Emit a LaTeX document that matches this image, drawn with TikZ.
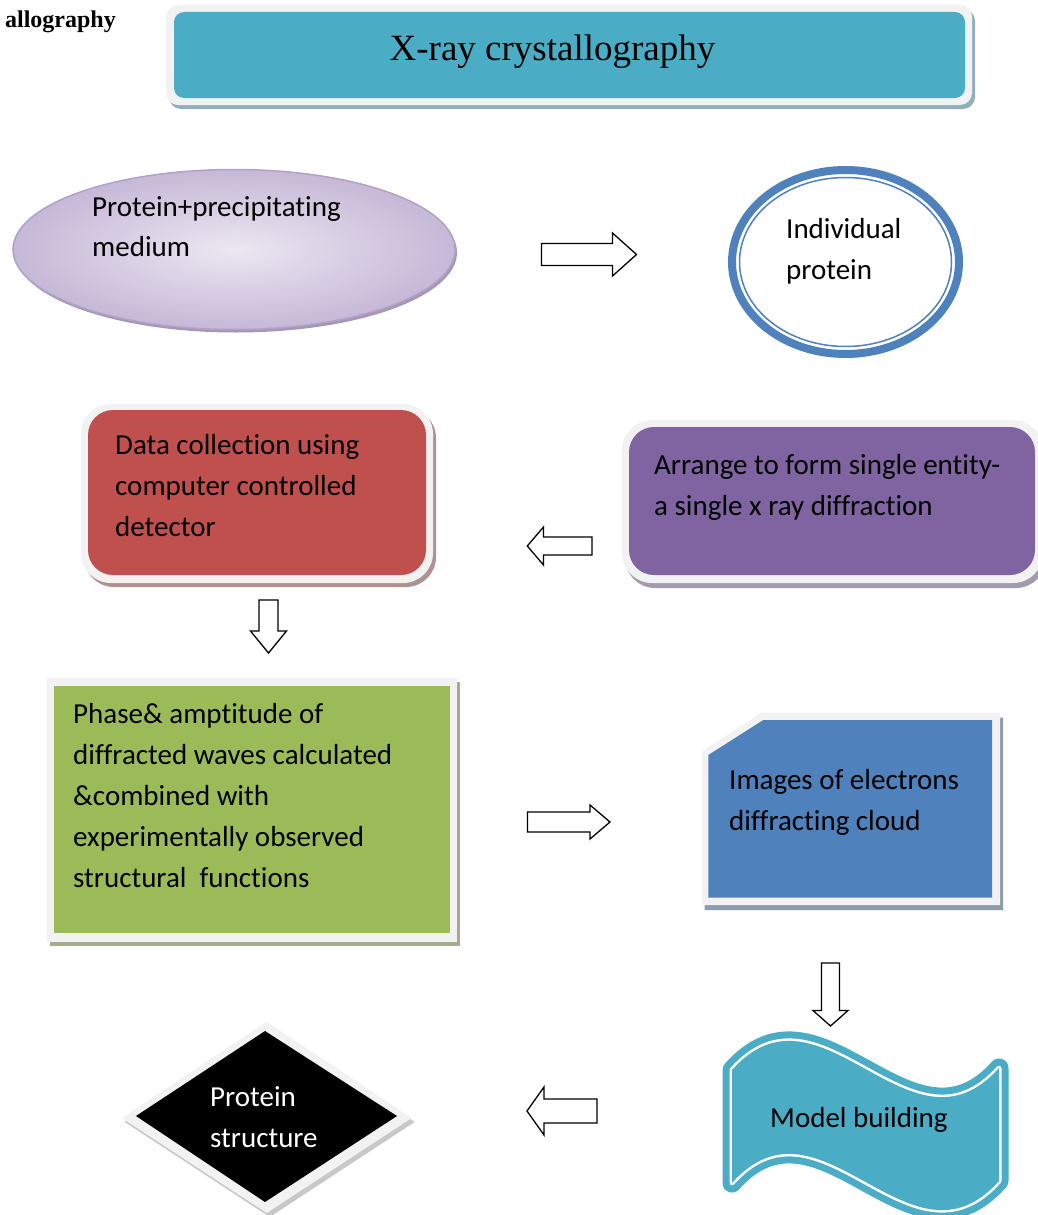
\documentclass[tikz,border=0pt]{standalone}
\usepackage{fontspec}
\setmainfont{Liberation Serif}
\newfontfamily\carl[Ligatures=NoCommon]{Carlito}
\definecolor{teal1}{HTML}{4BACC6}
\definecolor{titleshadow}{HTML}{93AEBB}
\definecolor{lightframe}{HTML}{F2F2F2}
\definecolor{red1}{HTML}{C0504D}
\definecolor{redshadow}{HTML}{AE9190}
\definecolor{purple1}{HTML}{8064A2}
\definecolor{purpleshadow}{HTML}{A29BAE}
\definecolor{green1}{HTML}{9BBB59}
\definecolor{greenshadow}{HTML}{A3AD8E}
\definecolor{blue1}{HTML}{4F81BD}
\definecolor{blueshadow}{HTML}{8E9BAB}
\definecolor{lavborder}{HTML}{B3A2C7}
\definecolor{lavshadow}{HTML}{A597B5}
\definecolor{lavin}{HTML}{ECE7F2}
\definecolor{lavout}{HTML}{C6B8D7}
\definecolor{diashadow}{HTML}{C8C8C8}
\tikzset{
  txt/.style={font=\carl\fontsize{29}{41}\selectfont, inner sep=0pt, anchor=base west},
  barrow/.style={draw=black, fill=white, line width=1.3pt, line join=miter},
  frame/.style={fill=lightframe},
}
\begin{document}
\begin{tikzpicture}[x=1pt,y=-1pt]
\useasboundingbox (0,0) rectangle (1038,1215);

% top-left cut title
\node[font=\bfseries\fontsize{24}{28}\selectfont, inner sep=0pt, anchor=base east] (cut) at (116,28) {allography};

% title box
\fill[titleshadow, rounded corners=12pt] (169,9) rectangle (975,109);
\fill[frame, rounded corners=12pt] (166,5) rectangle (972,105);
\fill[teal1, rounded corners=10pt] (174,12) rectangle (965,98);
\node[font=\fontsize{37}{44}\selectfont, inner sep=0pt, anchor=base] (title) at (552.5,60) {X-ray crystallography};

% ellipse
\fill[lavshadow] (236,252.5) ellipse [x radius=221, y radius=80];
\shade[inner color=lavin, outer color=lavout, draw=lavborder, line width=1.5pt] (234,249.5) ellipse [x radius=221, y radius=80];
\node[txt] (e1) at (92,216) {Protein+precipitating};
\node[txt] (e2) at (92,256) {medium};

% double ellipse
\draw[blue1, line width=8pt, fill=white] (845.5,262) ellipse [x radius=113.5, y radius=92];
\draw[blue1, line width=1.5pt] (845.5,262) ellipse [x radius=106, y radius=84.5];
\node[txt] (c1) at (786,238.5) {Individual};
\node[txt] (c2) at (786,279) {protein};

% red box
\fill[redshadow, rounded corners=30pt] (84,408) rectangle (436,587);
\fill[frame, rounded corners=30pt] (81,404) rectangle (433,583);
\fill[red1, rounded corners=25pt] (88,410) rectangle (426,575);
\node[txt] (r1) at (115,454) {Data collection using};
\node[txt] (r2) at (115,495) {computer controlled};
\node[txt] (r3) at (115,536) {detector};

% purple box
\fill[purpleshadow, rounded corners=30pt] (625,425) rectangle (1046,588);
\fill[frame, rounded corners=30pt] (622,420) rectangle (1043,583);
\fill[purple1, rounded corners=25pt] (629,427) rectangle (1035,575);
\node[txt] (p1) at (654,474) {Arrange to form single entity-};
\node[txt] (p2) at (654,515) {a single x ray diffraction};

% green box
\fill[greenshadow] (50,682) rectangle (460,946);
\fill[frame] (47,678) rectangle (457,942);
\fill[green1] (54,686) rectangle (450,933);
\node[txt] (g1) at (73,723) {Phase\& amptitude of};
\node[txt] (g2) at (73,764) {diffracted waves calculated};
\node[txt] (g3) at (73,805) {\&combined with};
\node[txt] (g4) at (73,846) {experimentally observed};
\node[txt] (g5) at (73,887) {structural\ \ functions};

% blue snipped box
\fill[blueshadow] (704.7,756.7) -- (764.7,717.7) -- (1003,717.7) -- (1003,910) -- (704.7,910) -- cycle;
\fill[frame] (701.7,751.7) -- (761.7,712.7) -- (1000,712.7) -- (1000,905) -- (701.7,905) -- cycle;
\fill[blue1] (708.3,755) -- (763.3,720) -- (992,720) -- (992,897.5) -- (708.3,897.5) -- cycle;
\node[txt] (b1) at (729,789) {Images of electrons};
\node[txt] (b2) at (729,830) {diffracting cloud};

% wave
\def\wavepath{(732,1070) .. controls (821,970) and (910,1168) .. (999,1068) -- (999,1181) .. controls (910,1281) and (821,1083) .. (732,1183) -- cycle}
\draw[teal1, line width=19pt, line join=round] \wavepath;
\draw[white, line width=5pt, line join=round] \wavepath;
\fill[teal1] \wavepath;
\node[txt] (m1) at (770,1127) {Model building};

% diamond
\fill[diashadow] (269.7,1025.7) -- (414.7,1122) -- (269.7,1217) -- (124.7,1122) -- cycle;
\fill[frame] (266.7,1021.7) -- (411.7,1118) -- (266.7,1213) -- (121.7,1118) -- cycle;
\fill[black] (265,1031) -- (397,1116) -- (265,1202) -- (136,1116) -- cycle;
\node[txt, text=white] (d1) at (210,1106.5) {Protein};
\node[txt, text=white] (d2) at (210,1147) {structure};

% block arrows
\draw[barrow] (541.5,243.5) -- (612.5,243.5) -- (612.5,233) -- (636.5,254.5) -- (612.5,276) -- (612.5,265.5) -- (541.5,265.5) -- cycle;
\draw[barrow] (592,537) -- (543.5,537) -- (543.5,527) -- (527.3,546) -- (543.5,565) -- (543.5,555) -- (592,555) -- cycle;
\draw[barrow] (259,600) -- (278,600) -- (278,631) -- (286.5,631) -- (268.5,653) -- (250.5,631) -- (259,631) -- cycle;
\draw[barrow] (527.5,812) -- (590,812) -- (590,805) -- (610,822) -- (590,839) -- (590,832) -- (527.5,832) -- cycle;
\draw[barrow] (821.5,963) -- (839.5,963) -- (839.5,1010.5) -- (848,1010.5) -- (830.5,1026) -- (813,1010.5) -- (821.5,1010.5) -- cycle;
\draw[barrow] (597,1099) -- (544,1099) -- (544,1087) -- (527,1111) -- (544,1135) -- (544,1123) -- (597,1123) -- cycle;
\end{tikzpicture}
\end{document}
